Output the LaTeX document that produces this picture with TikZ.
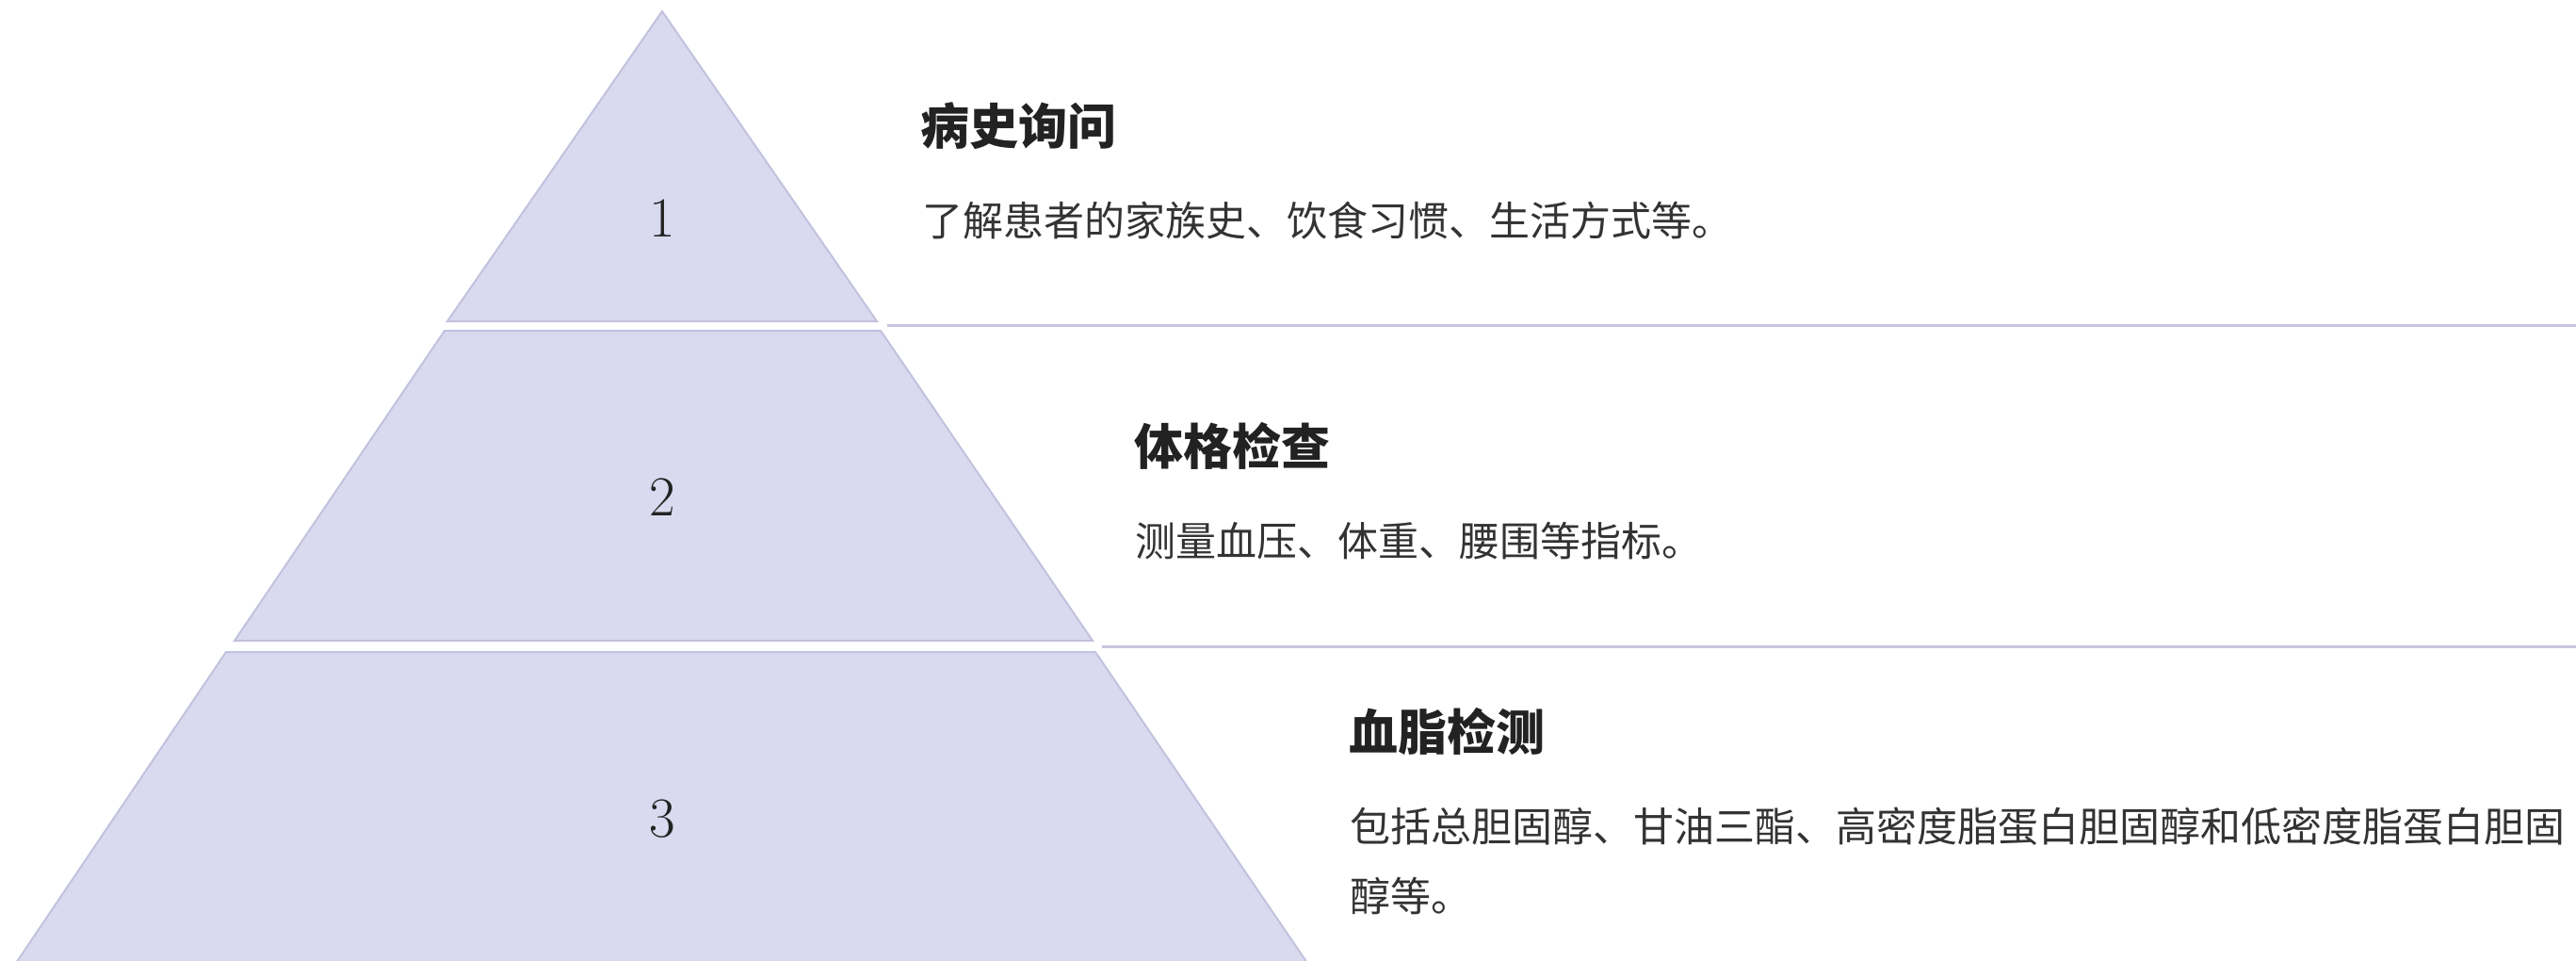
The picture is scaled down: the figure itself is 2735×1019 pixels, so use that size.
\documentclass[tikz,border=0pt]{standalone}
\usepackage{fontspec}
\newfontfamily\cjk{Noto Sans CJK SC}
\definecolor{tierfill}{HTML}{D9D9EF}
\definecolor{tierdraw}{HTML}{C2C2DE}
\definecolor{sepline}{HTML}{C6C6DE}
\definecolor{titletext}{HTML}{222222}
\definecolor{bodytext}{HTML}{333333}
\begin{document}
\begin{tikzpicture}[x=0.5pt,y=-0.5pt,
  tier/.style={fill=tierfill,draw=tierdraw,line width=1pt,line join=miter},
  sepl/.style={draw=sepline,line width=1.5pt},
  num/.style={font=\fontsize{30pt}{32pt}\selectfont,text=titletext,inner sep=0pt},
  ttl/.style={font=\cjk\bfseries\fontsize{26pt}{30pt}\selectfont,text=titletext,anchor=west,inner sep=0pt},
  bdy/.style={font=\cjk\fontsize{21.5pt}{37pt}\selectfont,text=bodytext,anchor=west,inner sep=0pt,align=left}]
\useasboundingbox (0,0) rectangle (2735,1019);
\clip (0,0) rectangle (2735,1019);
% tiers
\draw[tier] (703,12) -- (931,341) -- (475,341) -- cycle;
\draw[tier] (472,351) -- (935,351) -- (1160,680) -- (249,680) -- cycle;
\draw[tier] (240,692) -- (1163,692) -- (1390,1025) -- (15,1025) -- cycle;
% separator lines
\coordinate (l1a) at (942,345);
\coordinate (l1b) at (2735,345);
\coordinate (l2a) at (1170,686);
\coordinate (l2b) at (2735,686);
\draw[sepl] (l1a) -- (l1b);
\draw[sepl] (l2a) -- (l2b);
% numbers
\node[num] (n1) at (703,232) {1};
\node[num] (n2) at (703,528) {2};
\node[num] (n3) at (703,869) {3};
% texts
\node[ttl] (t1) at (977,134) {病史询问};
\node[bdy] (b1) at (979,234) {了解患者的家族史、饮食习惯、生活方式等。};
\node[ttl] (t2) at (1204,473) {体格检查};
\node[bdy] (b2) at (1205,574) {测量血压、体重、腰围等指标。};
\node[ttl] (t3) at (1432,776) {血脂检测};
\node[bdy] (b3) at (1433,914) {包括总胆固醇、甘油三酯、高密度脂蛋白胆固醇和低密度脂蛋白胆固\\醇等。};
\end{tikzpicture}
\end{document}
